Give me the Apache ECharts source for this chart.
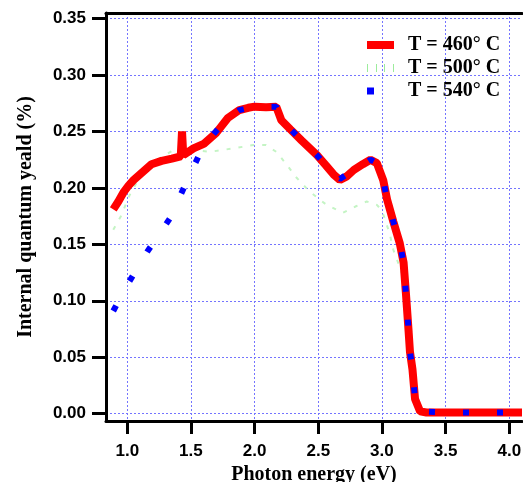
<!DOCTYPE html>
<html>
<head>
<meta charset="utf-8">
<script src="https://cdn.jsdelivr.net/npm/echarts@6/dist/echarts.min.js"></script>
<style>
  html, body { margin: 0; padding: 0; background: #fff; }
  #main { width: 523px; height: 482px; }
</style>
</head>
<body>
<div id="main"></div>
<script>
// tick labels
var xTicks = [1.0, 1.5, 2.0, 2.5, 3.0, 3.5, 4.0]
var yTicks = [0, 0.05, 0.10, 0.15, 0.20, 0.25, 0.30, 0.35]

// T = 460 C
var x460 = [0.89, 0.93, 0.97, 1.01, 1.05, 1.09, 1.13, 1.19, 1.27, 1.35, 1.42, 1.43, 1.44, 1.52, 1.60, 1.70, 1.79, 1.88, 1.95, 2.00, 2.09, 2.17, 2.21, 2.28, 2.37, 2.49, 2.56, 2.62, 2.67, 2.72, 2.78, 2.85, 2.91, 2.96, 3.01, 3.04, 3.09, 3.14, 3.17, 3.19, 3.21, 3.22, 3.24, 3.26, 3.30, 3.35, 3.50, 3.80, 4.10]
var y460 = [0.181, 0.188, 0.196, 0.202, 0.207, 0.211, 0.215, 0.221, 0.224, 0.226, 0.228, 0.250, 0.229, 0.235, 0.239, 0.249, 0.262, 0.269, 0.271, 0.272, 0.2715, 0.272, 0.260, 0.252, 0.242, 0.229, 0.220, 0.212, 0.207, 0.210, 0.216, 0.221, 0.225, 0.222, 0.207, 0.190, 0.170, 0.151, 0.134, 0.104, 0.072, 0.055, 0.039, 0.013, 0.002, 0.001, 0.001, 0.001, 0.001]

// T = 500 C
var x500 = [0.89, 0.95, 1.02, 1.08, 1.14, 1.25, 1.37, 1.50, 1.65, 1.83, 1.99, 2.09, 2.17, 2.25, 2.33, 2.43, 2.565, 2.695, 2.80, 2.88, 2.96, 3.00, 3.06, 3.09, 3.14, 3.17, 3.19, 3.21, 3.24, 3.26, 3.30, 4.10]
var y500 = [0.163, 0.175, 0.194, 0.206, 0.215, 0.226, 0.234, 0.234, 0.232, 0.235, 0.238, 0.238, 0.232, 0.221, 0.209, 0.197, 0.185, 0.178, 0.184, 0.188, 0.185, 0.180, 0.160, 0.145, 0.130, 0.120, 0.100, 0.070, 0.040, 0.013, 0.002, 0.001]

// T = 540 C
var x540 = [0.89, 1.01, 1.16, 1.335, 1.46, 1.584, 1.68, 1.79, 1.88, 2.00, 2.17, 2.21, 2.37, 2.49, 2.62, 2.67, 2.78, 2.91, 2.96, 3.01, 3.04, 3.09, 3.14, 3.17, 3.19, 3.21, 3.22, 3.24, 3.26, 3.30, 3.50, 4.10]
var y540 = [0.091, 0.116, 0.144, 0.173, 0.204, 0.234, 0.248, 0.262, 0.269, 0.272, 0.272, 0.260, 0.242, 0.229, 0.212, 0.208, 0.216, 0.225, 0.222, 0.207, 0.190, 0.170, 0.151, 0.134, 0.104, 0.072, 0.055, 0.039, 0.013, 0.002, 0.001, 0.001]

function pairs (xs, ys) {
  return xs.map(function (x, i) { return [x, ys[i]] })
}

var labelFont = { fontFamily: 'Liberation Sans', fontWeight: 'bold', fontSize: 17, color: '#000' }
var titleFont = { fontFamily: 'Liberation Serif', fontWeight: 'bold', fontSize: 20, color: '#000' }
var gridStyle = { show: true, lineStyle: { color: '#7474ff', width: 1, type: [2, 2] } }

var myChart = echarts.init(document.getElementById('main'))
myChart.setOption({
  animation: false,
  grid: { left: 106, right: 1, top: 13, bottom: 61, containLabel: false, outerBoundsMode: 'none' },
  legend: {
    orient: 'vertical',
    left: 362,
    top: 30,
    itemWidth: 36,
    itemHeight: 8,
    itemGap: 3,
    textStyle: titleFont,
    data: [
      { name: 'T = 460° C', icon: 'path://M0,0h27v8h-27z M35.9,4h0.1v0.1h-0.1z', itemStyle: { color: '#ff0000' } },
      { name: 'T = 500° C', icon: 'path://M0,0h1v8h-1z M9,0h1v8h-1z M17,0h1v8h-1z M26,0h1v8h-1z M35.9,4h0.1v0.1h-0.1z', itemStyle: { color: '#9cec9c' } },
      { name: 'T = 540° C', icon: 'path://M0,1h7v7h-7z M35.9,4h0.1v0.1h-0.1z', itemStyle: { color: '#0000ff' } }
    ]
  },
  xAxis: [{
    type: 'value',
    min: 0.833,
    max: 4.1,
    name: 'Photon energy (eV)',
    nameLocation: 'middle',
    nameGap: 37,
    nameTextStyle: titleFont,
    axisLine: { onZero: false, lineStyle: { color: '#000', width: 3 } },
    axisTick: { show: true, length: 13, lineStyle: { color: '#000', width: 3 }, customValues: xTicks },
    axisLabel: Object.assign({ margin: 22, customValues: xTicks, formatter: function (v) { return v.toFixed(1) } }, labelFont),
    splitLine: gridStyle
  }, {
    type: 'value',
    position: 'top',
    min: 0.833,
    max: 4.1,
    axisLine: { show: true, onZero: false, lineStyle: { color: '#000', width: 3 } },
    axisTick: { show: false },
    axisLabel: { show: false },
    splitLine: { show: false }
  }],
  yAxis: {
    type: 'value',
    min: -0.0065,
    max: 0.355,
    name: 'Internal quantum yeald (%)',
    nameLocation: 'middle',
    nameGap: 70,
    nameTextStyle: titleFont,
    axisLine: { show: true, onZero: false, lineStyle: { color: '#000', width: 3 } },
    axisTick: { show: true, length: 14, lineStyle: { color: '#000', width: 3 }, customValues: yTicks },
    axisLabel: Object.assign({ margin: 20, customValues: yTicks, formatter: function (v) { return v.toFixed(2) } }, labelFont),
    splitLine: gridStyle
  },
  series: [{
    name: 'T = 500° C',
    type: 'line',
    z: 1,
    symbol: 'none',
    data: pairs(x500, y500),
    lineStyle: { color: '#c4f4c4', width: 2, type: [4, 8] },
    itemStyle: { color: '#c4f4c4' }
  }, {
    name: 'T = 460° C',
    type: 'line',
    z: 2,
    symbol: 'none',
    data: pairs(x460, y460),
    lineStyle: { color: '#ff0000', width: 8 },
    itemStyle: { color: '#ff0000' }
  }, {
    name: 'T = 540° C',
    type: 'line',
    z: 3,
    symbol: 'none',
    data: pairs(x540, y540),
    lineStyle: { color: '#0000ff', width: 6, type: [6, 28] },
    itemStyle: { color: '#0000ff' }
  }]
})
</script>
</body>
</html>
